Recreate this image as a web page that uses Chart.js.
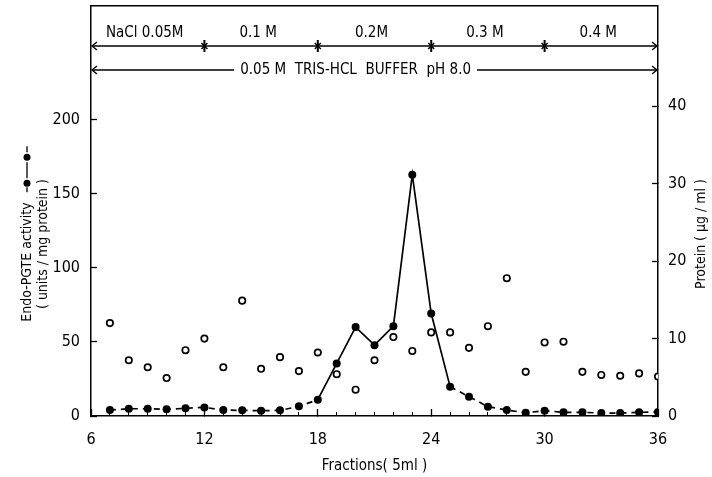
<!DOCTYPE html>
<html><head><meta charset="utf-8">
<script src="https://cdn.jsdelivr.net/npm/chart.js@4/dist/chart.umd.min.js"></script>
<style>html,body{margin:0;padding:0;background:#fff}#wrap{width:712px;height:477px;position:relative}</style>
</head><body><div id="wrap"><canvas id="c"></canvas></div>
<script>
// ---- data ----
const fractions = [7,8,9,10,11,12,13,14,15,16,17,18,19,20,21,22,23,24,25,26,27,28,29,30,31,32,33,34,35,36];
const activity  = [4.0,4.9,4.9,4.5,5.2,5.8,4.0,3.8,3.6,3.8,6.5,11,35.5,60,47.8,60.6,162.8,69.1,19.8,13,6.3,4.0,2.2,3.6,2.5,2.5,2.0,2.0,2.5,2.7];
const protein   = [12.0,7.2,6.3,4.9,8.5,10.0,6.3,14.9,6.1,7.6,5.8,8.2,5.4,3.4,7.2,10.2,8.4,10.8,10.8,8.8,11.6,17.8,5.7,9.5,9.6,5.7,5.3,5.2,5.5,5.1];
const xTicks = [6,12,18,24,30,36];
const leftTicks = [0,50,100,150,200];
const rightTicks = [0,10,20,30,40];
const naclBounds = [6,12,18,24,30,36];
const naclLabels = ['NaCl 0.05M','0.1 M','0.2M','0.3 M','0.4 M'];
const bufferLabel = '0.05 M  TRIS-HCL  BUFFER  pH 8.0';
const xTitle = 'Fractions( 5ml )';
const yTitle1 = 'Endo-PGTE activity';
const yTitle2 = '( units / mg protein )';
const y2Title = 'Protein ( \u00b5g / ml )';

const FONT = '"DejaVu Sans Condensed","DejaVu Sans",sans-serif';
Chart.defaults.font.family = FONT;
Chart.defaults.color = '#000';

const annot = {
  id: 'annot',
  afterDraw(chart) {
    const ctx = chart.ctx, a = chart.chartArea, xs = chart.scales.x;
    ctx.save();
    ctx.strokeStyle = '#000'; ctx.fillStyle = '#000';
    // top frame
    ctx.lineWidth = 1.5;
    ctx.beginPath(); ctx.moveTo(a.left, a.top); ctx.lineTo(a.right, a.top); ctx.stroke();
    const x0 = xs.getPixelForValue(naclBounds[0]), x1 = xs.getPixelForValue(naclBounds[naclBounds.length-1]);
    const arrowL = (x, y) => { ctx.beginPath(); ctx.moveTo(x+6, y-4); ctx.lineTo(x+1, y); ctx.lineTo(x+6, y+4); ctx.stroke(); };
    const arrowR = (x, y) => { ctx.beginPath(); ctx.moveTo(x-6, y-4); ctx.lineTo(x-1, y); ctx.lineTo(x-6, y+4); ctx.stroke(); };
    // NaCl row
    const yr = 46;
    ctx.lineWidth = 1.4;
    ctx.beginPath(); ctx.moveTo(x0+1, yr); ctx.lineTo(x1-1, yr); ctx.stroke();
    arrowL(x0, yr); arrowR(x1, yr);
    for (let i = 1; i < naclBounds.length-1; i++) {
      const sx = xs.getPixelForValue(naclBounds[i]);
      ctx.lineWidth = 2;
      ctx.beginPath(); ctx.moveTo(sx, yr-6); ctx.lineTo(sx, yr+6); ctx.stroke();
      ctx.lineWidth = 1.4;
      ctx.beginPath(); ctx.moveTo(sx-3, yr-3); ctx.lineTo(sx+3, yr+3); ctx.moveTo(sx+3, yr-3); ctx.lineTo(sx-3, yr+3); ctx.stroke();
    }
    ctx.font = '15px ' + FONT;
    ctx.textAlign = 'center'; ctx.textBaseline = 'middle';
    for (let i = 0; i < naclLabels.length; i++) {
      const cx = xs.getPixelForValue((naclBounds[i] + naclBounds[i+1]) / 2) - 3;
      ctx.fillText(naclLabels[i], cx, 33);
    }
    // buffer row
    const yb = 70;
    const cx = xs.getPixelForValue(20);
    const w = ctx.measureText(bufferLabel).width;
    ctx.fillText(bufferLabel, cx, yb);
    ctx.lineWidth = 1.4;
    ctx.beginPath(); ctx.moveTo(x0+1, yb); ctx.lineTo(cx - w/2 - 6, yb);
    ctx.moveTo(cx + w/2 + 6, yb); ctx.lineTo(x1-1, yb); ctx.stroke();
    arrowL(x0, yb); arrowR(x1, yb);
    // left titles
    ctx.font = '14px ' + FONT;
    ctx.save();
    ctx.translate(27, 262); ctx.rotate(-Math.PI/2);
    ctx.textAlign = 'center';
    ctx.fillText(yTitle1, 0, 0);
    // legend symbol -●-●-
    const tw = ctx.measureText(yTitle1).width;
    const s0 = tw/2 + 10;
    ctx.lineWidth = 1.3;
    ctx.beginPath();
    ctx.moveTo(s0, 0); ctx.lineTo(s0+5, 0);
    ctx.moveTo(s0+14, 0); ctx.lineTo(s0+30, 0);
    ctx.moveTo(s0+40, 0); ctx.lineTo(s0+46, 0);
    ctx.stroke();
    ctx.beginPath(); ctx.arc(s0+9, 0, 3.5, 0, Math.PI*2); ctx.fill();
    ctx.beginPath(); ctx.arc(s0+35, 0, 3.5, 0, Math.PI*2); ctx.fill();
    ctx.restore();
    ctx.save();
    ctx.translate(43, 244); ctx.rotate(-Math.PI/2);
    ctx.textAlign = 'center';
    ctx.fillText(yTitle2, 0, 0);
    ctx.restore();
    ctx.save();
    ctx.translate(701, 234); ctx.rotate(-Math.PI/2);
    ctx.textAlign = 'center';
    ctx.fillText(y2Title, 0, 0);
    ctx.restore();
    ctx.restore();
  }
};

const fixedTicks = (arr) => (s) => { s.ticks = arr.map(v => ({value: v})); };
const noPad = (s) => { s.paddingTop = 0; s.paddingBottom = 0; s.paddingLeft = 0; s.paddingRight = 0; };

new Chart(document.getElementById('c'), {
  type: 'line',
  data: {
    datasets: [
      {
        label: 'Endo-PGTE activity',
        data: fractions.map((f, i) => ({x: f, y: activity[i]})),
        yAxisID: 'y', xAxisID: 'x',
        borderColor: '#000', borderWidth: 1.7,
        pointBackgroundColor: '#000', pointBorderColor: '#000',
        pointRadius: 4, pointBorderWidth: 0,
        tension: 0,
        segment: {
          borderDash: c => (c.p0.parsed.y < 25 && c.p1.parsed.y < 25) ? [6, 5] : undefined
        }
      },
      {
        label: 'Protein',
        data: fractions.map((f, i) => ({x: f, y: protein[i]})),
        yAxisID: 'y1', xAxisID: 'x',
        showLine: false,
        borderColor: '#000', backgroundColor: '#fff',
        pointBackgroundColor: '#fff', pointBorderColor: '#000',
        pointRadius: 3.2, pointBorderWidth: 1.7
      }
    ]
  },
  options: {
    responsive: true, maintainAspectRatio: false, animation: false,
    layout: {padding: {top: 5, left: 0, right: 0, bottom: 0}},
    plugins: {legend: {display: false}, tooltip: {enabled: false}},
    scales: {
      x: {
        type: 'linear', position: 'bottom', min: 6, max: 36, weight: 1,
        afterBuildTicks: fixedTicks(xTicks),
        afterFit: s => { noPad(s); s.height = 61; },
        grid: {drawOnChartArea: false, drawTicks: true, tickLength: -7, tickColor: '#000', tickWidth: 1.3},
        border: {display: true, color: '#000', width: 1.5},
        ticks: {padding: 21, font: {size: 16}, color: '#000', maxRotation: 0},
        title: {display: true, text: xTitle, font: {size: 15}, color: '#000', padding: {top: 0, bottom: 2}}
      },
      xMinor: {
        type: 'linear', position: 'bottom', min: 6, max: 36, weight: 0,
        afterBuildTicks: fixedTicks(fractions),
        afterFit: s => { noPad(s); s.height = 0; },
        grid: {drawOnChartArea: false, drawTicks: true, tickLength: -4, tickColor: '#000', tickWidth: 1},
        border: {display: false},
        ticks: {display: false}
      },
      y: {
        type: 'linear', position: 'left', min: 0, max: 276.8,
        afterBuildTicks: fixedTicks(leftTicks),
        afterFit: s => { noPad(s); s.width = 91; },
        grid: {drawOnChartArea: false, drawTicks: true, tickLength: -6, tickColor: '#000', tickWidth: 1.3},
        border: {display: true, color: '#000', width: 1.5},
        ticks: {padding: 17, font: {size: 16}, color: '#000'}
      },
      y1: {
        type: 'linear', position: 'right', min: 0, max: 53.0,
        afterBuildTicks: fixedTicks(rightTicks),
        afterFit: s => { noPad(s); s.width = 54; },
        grid: {drawOnChartArea: false, drawTicks: true, tickLength: -6, tickColor: '#000', tickWidth: 1.3},
        border: {display: true, color: '#000', width: 1.5},
        ticks: {padding: 16, font: {size: 16}, color: '#000'}
      }
    }
  },
  plugins: [annot]
});
</script>
</body></html>
